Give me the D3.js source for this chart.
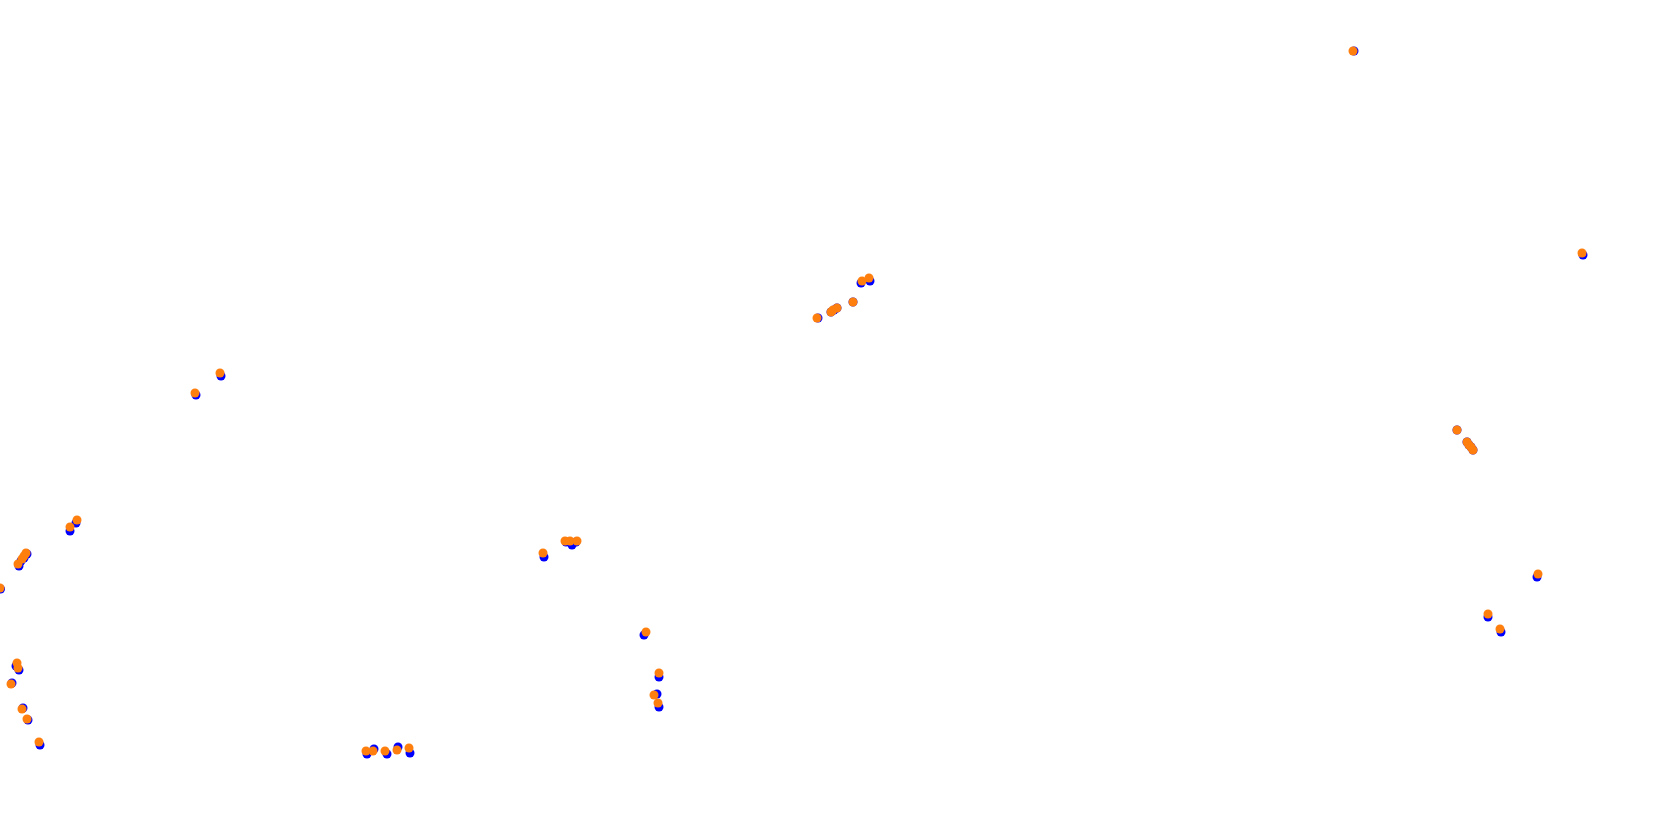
<!DOCTYPE html>
<html><head><meta charset="utf-8">
<script src="https://cdn.jsdelivr.net/npm/d3@7"></script>
<style>html,body{margin:0;padding:0;background:#fff;overflow:hidden}</style>
</head><body><div id="chart"></div>
<script>
// Position values (x = easting units, y = northing units, origin bottom-left)
const seriesNames = ["blue", "orange"];
const blueX = [76,70,27,24,21,19,0.5,16,19,12,23,28,40,196,221,367,374,387,398,410,544,566,572,576,644,659,657,659,818,831,834,837,853,861,870,1354,1457,1467,1469,1471,1473,1537,1488,1501,1583];
const blueY = [310,302,279,275,272,267,244,167,163,150,125,113,88,438,457,79,84,79,86,80,276,291,288,291,198,156,139,126,515,521,523,525,531,550,552,782,403,391,388,386,383,256,216,201,578];
const orangeX = [77,70,26,24,22,18,0,17,18,11,22,27,39,195,220,366,373,385,397,409,543,565,570,577,646,659,654,658,817,831,833,837,853,862,869,1353,1457,1467,1469,1471,1473,1538,1488,1500,1582];
const orangeY = [313,306,280,277,274,269,245,170,165,149,124,114,91,440,460,82,82,82,83,85,280,292,292,292,201,160,138,130,515,521,523,525,531,552,555,782,403,391,388,386,383,259,219,204,580];
const colors = ["#0000ff", "#ff7f0e"];

const W = 1680, H = 833;
const x = d3.scaleLinear().domain([0, 1680]).range([0, W]);
const y = d3.scaleLinear().domain([0, 833]).range([H, 0]);

const svg = d3.select("#chart").append("svg").attr("width", W).attr("height", H);

const series = [
  blueX.map((v, i) => ({x: v, y: blueY[i]})),
  orangeX.map((v, i) => ({x: v, y: orangeY[i]}))
];

series.forEach((pts, si) => {
  svg.append("g").selectAll("circle").data(pts).join("circle")
    .attr("cx", d => x(d.x))
    .attr("cy", d => y(d.y))
    .attr("r", 4.5)
    .attr("fill", colors[si]);
});
</script>
</body></html>
